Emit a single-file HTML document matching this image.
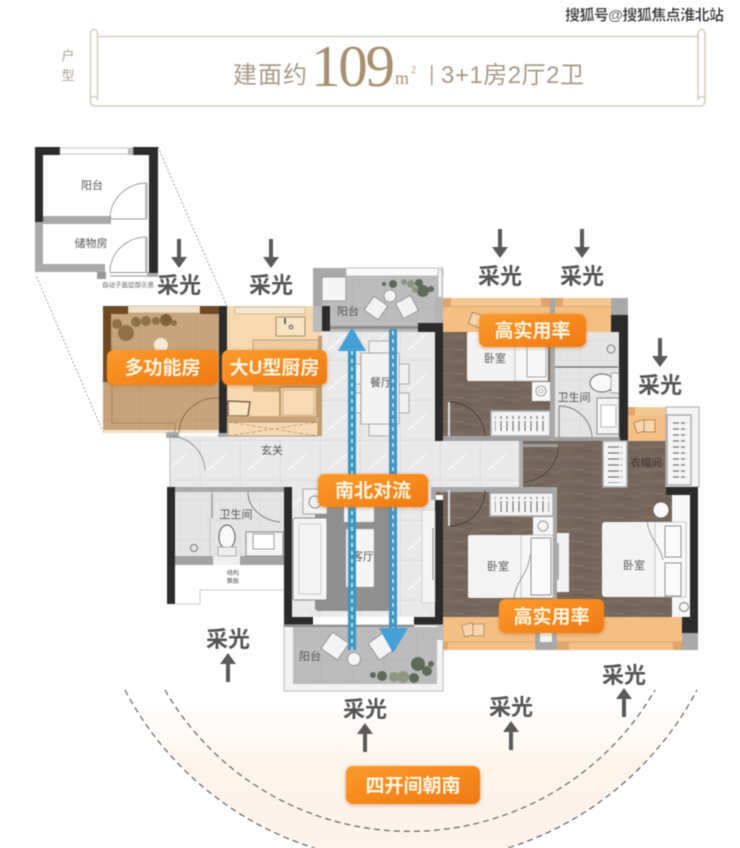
<!DOCTYPE html>
<html lang="zh"><head><meta charset="utf-8"><title>109㎡户型图</title>
<style>
html,body{margin:0;padding:0;background:#fff;width:740px;height:848px;overflow:hidden}
svg{display:block;filter:blur(.45px)}
text{font-family:"Liberation Sans","Noto Sans CJK SC",sans-serif}
.cg{font-size:22px;font-weight:700;fill:#555;text-anchor:middle}
.lb{fill:#555;text-anchor:middle}
.bd{font-size:19px;font-weight:700;fill:#fff5e6;text-anchor:middle}
.hd{fill:#a89a86;font-size:24px}
.door{fill:none;stroke:#777;stroke-width:.7}
.wr{fill:#f4f4f4;stroke:#aaa;stroke-width:1.5}
.badges{filter:drop-shadow(0 1px 2px rgba(190,110,40,.55))}
</style></head><body>
<svg width="740" height="848" viewBox="0 0 740 848" xmlns="http://www.w3.org/2000/svg">
<defs>
<linearGradient id="peach" x1="0" y1="0" x2="0" y2="1"><stop offset="0" stop-color="#fff"/><stop offset=".08" stop-color="#fff"/><stop offset=".45" stop-color="#fdf4ea"/><stop offset="1" stop-color="#fdf3ec"/></linearGradient>
<linearGradient id="bg" x1="0" y1="0" x2="1" y2="1"><stop offset="0" stop-color="#fb9a2c"/><stop offset=".5" stop-color="#f78a1c"/><stop offset="1" stop-color="#ee7a12"/></linearGradient>
<pattern id="wood" width="40" height="12" patternUnits="userSpaceOnUse"><rect width="40" height="12" fill="#76675a"/><rect y="0" width="24" height="3" fill="#7c6e61"/><rect x="14" y="6" width="20" height="3" fill="#6f6155"/><rect x="30" y="3" width="10" height="3" fill="#7b6d60"/></pattern>
<pattern id="tile" width="40" height="40" patternUnits="userSpaceOnUse"><rect width="40" height="40" fill="#e9e9e9"/><path d="M0 0H40M0 0V40" stroke="#c6c6c6" stroke-width=".7"/><path d="M8 30L26 14" stroke="#f5f5f5" stroke-width="2"/></pattern>
<pattern id="tile2" width="20" height="20" patternUnits="userSpaceOnUse"><rect width="20" height="20" fill="#e4e4e4"/><path d="M0 0H20M0 0V20" stroke="#cfcfcf" stroke-width=".6"/></pattern>
<pattern id="tan" width="28" height="28" patternUnits="userSpaceOnUse"><rect width="28" height="28" fill="#c6a57c"/><path d="M0 0H28M0 0V28" stroke="#b49269" stroke-width=".7"/></pattern>
<pattern id="bal" width="32" height="22" patternUnits="userSpaceOnUse"><rect width="32" height="22" fill="#bcbcbc"/><path d="M0 0H32M0 0V22" stroke="#a9a9a9" stroke-width=".6"/></pattern>
<pattern id="hang" width="6" height="20" patternUnits="userSpaceOnUse"><path d="M3 1V19" stroke="#777" stroke-width="1.2"/></pattern>
<pattern id="hangv" width="20" height="6" patternUnits="userSpaceOnUse"><path d="M1 3H19" stroke="#777" stroke-width="1.2"/></pattern>
</defs>
<rect width="740" height="848" fill="#fff"/>

<!-- watermark -->
<text x="565" y="20" style="font-size:15px;font-weight:700" fill="#333" stroke="#fff" stroke-width=".3" textLength="159">搜狐号@搜狐焦点淮北站</text>

<!-- scroll header -->
<g fill="none" stroke="#d6d0c4" stroke-width="1.6">
<path d="M97 36.500H698"/><path d="M94 106H702"/>
<path d="M90.500 100V34a3.500 4.500 0 0 1 7 0V100"/><path d="M90.500 100a4 5 0 0 0 4 6M97.500 100a3 3 0 0 0-7 0"/>
<path d="M705 100V34a3.500 4.500 0 0 0-7 0V100"/><path d="M705 100a4 5 0 0 1-4 6M698 100a3 3 0 0 1 7 0"/>
</g>
<text x="68" y="60" style="font-size:13px" fill="#aaa194" text-anchor="middle">户</text>
<text x="68" y="80" style="font-size:13px" fill="#aaa194" text-anchor="middle">型</text>
<text x="233" y="83" class="hd" textLength="74">建面约</text>
<text x="311" y="86" style="font-family:'Liberation Serif',serif;font-size:59px" fill="#a8906f" textLength="84">109</text>
<text x="395" y="84" style="font-family:'Liberation Serif',serif;font-size:18px" fill="#a8906f">m</text>
<text x="411" y="73" style="font-family:'Liberation Serif',serif;font-size:10px" fill="#a8906f">2</text>
<rect x="431" y="65" width="1.500" height="20" fill="#a89a86"/>
<text x="441" y="83" class="hd" textLength="143">3+1房2厅2卫</text>

<!-- south arcs -->
<path d="M125 690A323 323 0 0 0 697 690Z" fill="url(#peach)"/>
<path d="M125 690A323 323 0 0 0 697 690" fill="none" stroke="#555" stroke-width="1.100" stroke-dasharray="6 4"/>
<path d="M165 690A283 283 0 0 0 655 690" fill="none" stroke="#555" stroke-width="1.100" stroke-dasharray="6 4"/>

<!-- dotted projection lines -->
<path d="M158 147L227 306M35 273L103 432" stroke="#777" stroke-width=".7" stroke-dasharray="2 2" fill="none"/>

<!-- inset storage -->
<g>
<rect x="35" y="147" width="123" height="128" fill="#fff"/>
<rect x="35" y="222" width="8" height="50" fill="#a9a9a9"/>
<rect x="43" y="216" width="68" height="8" fill="#a9a9a9"/>
<rect x="35" y="264" width="70" height="8" fill="#a9a9a9"/>
<rect x="97" y="272" width="9" height="7" fill="#999"/>
<rect x="147" y="272" width="11" height="5" fill="#aaa"/>
<path d="M35 147H60V155H43V222H35ZM133 147H158V273H149V155H133Z" fill="#2b2b2b"/>
<rect x="60" y="148" width="73" height="6" fill="#fff" stroke="#aaa" stroke-width=".7"/>
<rect x="128" y="148" width="5" height="7" fill="#bbb"/>
<path class="door" d="M147 183A37 36 0 0 0 110 219H147M147 183V219M147 237A37 35 0 0 0 110 272M147 237V272M110 272.500H147M110 276H147"/>
<path d="M146 183V219M146 237V272" stroke="#bbb" stroke-width="2"/>
<text x="92" y="189" class="lb" style="font-size:11px">阳台</text>
<text x="91" y="247" class="lb" style="font-size:11px">储物房</text>
<text x="128" y="287" style="font-size:6.500px" fill="#666" text-anchor="middle">自动子面层部示意</text>
</g>

<!-- main floor -->
<rect x="170" y="436" width="350" height="51" fill="url(#tile)"/>
<rect x="322" y="330" width="122" height="160" fill="url(#tile)"/>
<path d="M170 436V487" stroke="#bbb"/>
<path d="M520 441V487" stroke="#bbb"/>

<!-- multi-function room -->
<rect x="103" y="306" width="116" height="126" fill="url(#tan)"/>
<rect x="103" y="430" width="116" height="3" fill="#f2e0c6"/>
<rect x="128" y="306" width="72" height="7" fill="#eedfc6" stroke="#c7ad88" stroke-width=".7"/>
<path d="M103 306H128V314H111V382H103ZM200 306H219V314H200Z" fill="#6d4a24"/>
<path d="M112 345V423H175M175 423V432" fill="none" stroke="#a88660" stroke-width="1"/>
<g fill="#8e7148">
<circle cx="126" cy="333" r="8"/><circle cx="136" cy="322" r="5"/><circle cx="117" cy="324" r="5"/><circle cx="146" cy="321" r="5"/><circle cx="156" cy="321" r="4"/><circle cx="166" cy="320" r="6" fill="#7d6238"/><circle cx="174" cy="323" r="3"/>
</g>
<circle cx="161" cy="345" r="7" fill="#f6e9d6"/>
<path d="M219 398A38 36 0 0 0 179 432" class="door" style="stroke:#6b5232"/>
<rect x="166" y="432" width="13" height="6" fill="#aaa"/>

<!-- black wall between -->
<rect x="219" y="306" width="8" height="128" fill="#2b2b2b"/>
<rect x="218" y="433" width="10" height="4" fill="#aaa"/>

<!-- kitchen -->
<rect x="227" y="306" width="95" height="130" fill="#f6d9b0"/>
<rect x="235" y="307" width="70" height="7" fill="#f6e6cf" stroke="#c7a87e" stroke-width=".7"/>
<rect x="276" y="317" width="29" height="19" fill="#f8e2c3" stroke="#8f7a5d" stroke-width=".8"/>
<circle cx="291" cy="327" r="1.800" fill="none" stroke="#555"/><path d="M285 318V324" stroke="#444" stroke-width="1.500"/>
<rect x="253" y="340" width="66" height="46" fill="#eccba0" stroke="#b08d63" stroke-width=".8"/>
<rect x="253" y="386" width="30" height="6" fill="#c9a87c"/>
<rect x="280" y="387" width="37" height="31" fill="#efd0a6" stroke="#ac8b60" stroke-width="1.500"/>
<rect x="283" y="390" width="31" height="25" fill="#f6dbb5" stroke="#c3a278" stroke-width=".6"/>
<path d="M228 401L250 402L248 416H228Z" fill="#f8e3c5" stroke="#6b5232" stroke-width="1.300"/>
<rect x="227" y="416" width="90" height="6" fill="#c9a67a"/>
<rect x="228" y="422" width="90" height="14" fill="#f4d9b3" stroke="#a78660" stroke-width=".8"/>
<path d="M228 422L318 436M228 436L318 422" stroke="#a78660" stroke-width=".6" stroke-dasharray="4 2"/>
<rect x="318" y="336" width="4" height="100" fill="#bf9d71"/>
<rect x="313" y="306" width="9" height="25" fill="#6d4a24"/>

<!-- top balcony -->
<rect x="313" y="268" width="130" height="64" fill="url(#bal)"/>
<path d="M313 268H346V277H322V306H313Z" fill="#a8a8a8"/>
<rect x="322" y="277" width="24" height="24" fill="#f5f5f5" stroke="#999"/>
<rect x="346" y="268" width="97" height="8" fill="#fbfbfb" stroke="#bbb" stroke-width="1"/>
<rect x="438" y="270" width="4" height="28" fill="#f5f5f5" stroke="#bbb"/>
<rect x="435" y="297" width="8" height="27" fill="#b5b5b5"/>
<rect x="322" y="306" width="8" height="25" fill="#2b2b2b"/>
<rect x="418" y="323" width="25" height="9" fill="#2b2b2b"/>
<rect x="330" y="326" width="88" height="3" fill="#8e8e8e"/>
<text x="348" y="315" class="lb" style="font-size:11px">阳台</text>
<g fill="#f3f3f3" stroke="#888" stroke-width=".8">
<rect x="-8.500" y="-8.500" width="17" height="17" transform="translate(376 308) rotate(35)"/>
<rect x="-8.500" y="-8.500" width="17" height="17" transform="translate(407 307) rotate(-28)"/>
<circle cx="390" cy="296" r="6"/>
</g>
<g fill="#5e6a58">
<circle cx="393" cy="284" r="4"/><circle cx="384" cy="284" r="2"/><circle cx="404" cy="282" r="3" fill="#8c9680"/><circle cx="411" cy="284" r="4" fill="#8c9680"/><circle cx="419" cy="283" r="4"/><circle cx="423" cy="291" r="6"/><circle cx="431" cy="289" r="3"/><circle cx="415" cy="290" r="3" fill="#8c9680"/>
</g>

<!-- dining -->
<g fill="#f1f1f1" stroke="#999" stroke-width=".8">
<rect x="369" y="341" width="22" height="12"/><rect x="369" y="424" width="22" height="12"/>
<rect x="350" y="364" width="11" height="20"/><rect x="350" y="393" width="11" height="20"/>
<rect x="398" y="364" width="11" height="20"/><rect x="398" y="393" width="11" height="20"/>
<rect x="361" y="353" width="38" height="71" fill="#f3f3f3"/>
</g>
<text x="381" y="386" class="lb" style="font-size:11px">餐厅</text>
<text x="272" y="454" class="lb" style="font-size:11px">玄关</text>
<path class="door" d="M170 436A36 36 0 0 1 205 470"/>

<!-- bedroom upper -->
<rect x="443" y="332" width="107" height="109" fill="url(#wood)"/>
<rect x="443" y="298" width="107" height="34" fill="#f4bf83"/>
<rect x="443" y="298" width="107" height="8" fill="#f2c892"/>
<rect x="443" y="298" width="8" height="8" fill="#dfa56a"/><rect x="541" y="298" width="9" height="8" fill="#dfa56a"/>
<path d="M443 306.500H550" stroke="#cf9c62" stroke-width=".7"/>
<rect x="470" y="314" width="12" height="12" fill="#f6d6ac" stroke="#9d7a50" stroke-width=".8" transform="rotate(20 476 320)"/>
<rect x="467" y="332" width="81" height="49" rx="2" fill="#f3f3f3"/>
<rect x="515" y="332" width="33" height="49" fill="#f7f7f7" stroke="#aaa" stroke-width=".7"/>
<rect x="527" y="345" width="19" height="32" fill="none" stroke="#888" stroke-width=".7"/>
<text x="495" y="362" class="lb" style="font-size:11px">卧室</text>
<rect x="532" y="382" width="18" height="19" fill="#f7f7f7"/>
<circle cx="541" cy="391" r="5" fill="none" stroke="#888" stroke-width=".8"/><circle cx="541" cy="391" r="2" fill="none" stroke="#888" stroke-width=".6"/>
<rect x="491" y="411" width="59" height="25" class="wr"/>
<rect x="495" y="416" width="52" height="15" fill="url(#hang)"/>
<path d="M449 402V438M449 402A36 36 0 0 1 485 438" class="door" style="stroke:#333"/>
<rect x="448" y="402" width="2" height="36" fill="#ddd"/>
<rect x="435" y="332" width="8" height="109" fill="#2b2b2b"/>
<rect x="443" y="436" width="112" height="5" fill="#a0a0a0"/>

<!-- bathroom upper -->
<rect x="555" y="332" width="65" height="106" fill="url(#tile2)"/>
<rect x="550" y="298" width="5" height="142" fill="#a8a8a8"/>
<rect x="555" y="298" width="56" height="34" fill="#f4bf83"/>
<rect x="555" y="298" width="56" height="8" fill="#f2c892"/>
<rect x="555" y="298" width="8" height="8" fill="#dfa56a"/>
<path d="M555 306.500H611" stroke="#cf9c62" stroke-width=".7"/>
<rect x="611" y="298" width="17" height="17" fill="#a9a9a9"/>
<rect x="611" y="315" width="8" height="17" fill="#2b2b2b"/>
<rect x="619" y="315" width="9" height="126" fill="#2b2b2b"/>
<path d="M555 367H618" stroke="#666" stroke-width="1.200"/>
<circle cx="611" cy="349" r="4" fill="none" stroke="#777"/>
<ellipse cx="602" cy="383" rx="12" ry="9" fill="#f8f8f8" stroke="#666"/>
<rect x="611" y="373" width="8" height="20" fill="#f2f2f2" stroke="#888" stroke-width=".7"/>
<rect x="597" y="398" width="22" height="36" fill="#f4f4f4" stroke="#888"/>
<rect x="601" y="405" width="15" height="22" fill="#fff" stroke="#888" stroke-width=".6"/>
<text x="574" y="401" class="lb" style="font-size:11px">卫生间</text>
<path class="door" d="M559 406A33 33 0 0 1 592 439M559 406V439" style="stroke:#555"/>
<rect x="555" y="437" width="65" height="4" fill="#a0a0a0"/>

<!-- closet + lower bedrooms -->
<path d="M519 441H666V487H682V617H443V495H435V487H519Z" fill="url(#wood)"/>
<rect x="628" y="407" width="38" height="34" fill="#f4bf83"/>
<rect x="628" y="407" width="38" height="8" fill="#f2c892"/>
<rect x="628" y="407" width="7" height="8" fill="#dfa56a"/>
<rect x="635" y="421" width="11" height="11" fill="#f6d6ac" stroke="#9d7a50" stroke-width=".8" transform="rotate(-18 640 426)"/>
<rect x="644" y="420" width="11" height="12" fill="#f6d6ac" stroke="#9d7a50" stroke-width=".8"/>
<rect x="666" y="407" width="33" height="80" fill="#f4f4f4" stroke="#b5b5b5" stroke-width="1.200"/>
<rect x="667" y="415" width="24" height="70" class="wr"/>
<rect x="673" y="418" width="12" height="64" fill="url(#hangv)"/>
<rect x="603" y="441" width="24" height="46" class="wr"/>
<rect x="608" y="445" width="14" height="38" fill="url(#hangv)"/>
<text x="646" y="466" text-anchor="middle" style="font-size:10.500px;fill:#3a322c">衣帽间</text>
<rect x="522" y="444" width="36" height="3" fill="#9d9d9d"/>
<path d="M558 447A37 35 0 0 1 520 482" class="door" style="stroke:#3a3a3a"/>
<rect x="519" y="441" width="4" height="46" fill="#b0b0b0"/>
<rect x="435" y="487" width="122" height="5" fill="#a8a8a8"/>
<rect x="553" y="487" width="4" height="112" fill="#a8a8a8"/>
<rect x="490" y="493" width="63" height="23" class="wr"/>
<rect x="495" y="497" width="54" height="15" fill="url(#hang)"/>
<rect x="533" y="517" width="20" height="18" fill="#f5f5f5"/>
<circle cx="543" cy="526" r="5" fill="none" stroke="#999"/>
<path d="M449 490V526M449 526A36 36 0 0 0 485 490" class="door" style="stroke:#333"/>
<rect x="448" y="490" width="2" height="36" fill="#ddd"/>
<rect x="468" y="535" width="85" height="63" rx="2" fill="#f4f4f4"/>
<rect x="521" y="535" width="32" height="63" fill="#f7f7f7" stroke="#aaa" stroke-width=".6"/>
<rect x="531" y="538" width="20" height="57" fill="#fafafa" stroke="#666" stroke-width=".7"/>
<path d="M530 555C528 575 516 580 514 598" fill="none" stroke="#777" stroke-width=".7"/>
<text x="498" y="570" class="lb" style="font-size:11px">卧室</text>
<rect x="557" y="533" width="12" height="59" fill="#f3f3f3"/>
<path d="M558 543V580" stroke="#888" stroke-width="1.200"/>
<rect x="672" y="495" width="18" height="122" fill="#f7f7f7"/>
<circle cx="661" cy="510" r="8" fill="#f8f8f8" stroke="#555" stroke-width=".8"/>
<rect x="602" y="522" width="84" height="75" rx="3" fill="#f4f4f4"/>
<rect x="655" y="522" width="31" height="75" fill="#f8f8f8" stroke="#aaa" stroke-width=".6"/>
<rect x="665" y="526" width="16" height="31" fill="#fbfbfb" stroke="#666" stroke-width=".7"/>
<rect x="665" y="563" width="16" height="33" fill="#fbfbfb" stroke="#666" stroke-width=".7"/>
<path d="M647 522C650 540 660 545 663 560" fill="none" stroke="#777" stroke-width=".7"/>
<text x="634" y="569" class="lb" style="font-size:11px">卧室</text>
<rect x="676" y="598" width="14" height="18" fill="#f6f6f6"/><circle cx="684" cy="607" r="4.500" fill="none" stroke="#777"/>
<path d="M666 487H698V633H682V617H690V495H666Z" fill="#2b2b2b"/>
<rect x="435" y="500" width="8" height="125" fill="#2b2b2b"/>
<rect x="414" y="617" width="29" height="8" fill="#2b2b2b"/>

<!-- bottom orange -->
<rect x="443" y="617" width="92" height="33" fill="#f4bf83"/>
<rect x="557" y="617" width="125" height="33" fill="#f4bf83"/>
<path d="M443 642H535M557 642H682" stroke="#cf9c62" stroke-width=".8"/>
<rect x="443" y="642" width="5" height="8" fill="#dfa56a"/><rect x="557" y="642" width="12" height="8" fill="#dfa56a"/><rect x="673" y="642" width="9" height="8" fill="#dfa56a"/>
<rect x="535" y="617" width="22" height="33" fill="#a8a8a8"/><rect x="540" y="630" width="12" height="12" fill="#f5f5f5"/>
<rect x="682" y="633" width="16" height="17" fill="#a9a9a9"/>
<rect x="463" y="624" width="11" height="12" fill="#f6d6ac" stroke="#9d7a50" stroke-width=".7" transform="rotate(-15 468 630)"/>
<rect x="473" y="624" width="11" height="12" fill="#f6d6ac" stroke="#9d7a50" stroke-width=".7"/>

<!-- lower-left bathroom -->
<rect x="170" y="487" width="114" height="5" fill="#a8a8a8"/>
<rect x="175" y="492" width="109" height="65" fill="url(#tile2)"/>
<rect x="175" y="556" width="109" height="9" fill="#a3a3a3"/>
<rect x="213" y="556" width="27" height="9" fill="#efefef"/>
<path d="M212 493V518" stroke="#999" stroke-width="1.500"/><path d="M210 518V556" stroke="#bbb" stroke-width=".7"/>
<path d="M248 492A36 30 0 0 0 280 522" class="door" style="stroke:#555"/>
<ellipse cx="227" cy="537" rx="8" ry="12" fill="#f8f8f8" stroke="#555"/>
<rect x="218" y="547" width="18" height="9" fill="#eee" stroke="#888" stroke-width=".6"/>
<rect x="246" y="532" width="37" height="24" fill="#f5f5f5" stroke="#888"/>
<rect x="253" y="534" width="21" height="15" fill="#fff" stroke="#777" stroke-width=".7"/>
<circle cx="194" cy="548" r="3.500" fill="none" stroke="#777"/>
<text x="236" y="518" class="lb" style="font-size:11px">卫生间</text>
<text x="233" y="575" class="lb" style="font-size:6px">结构</text>
<text x="233" y="583" class="lb" style="font-size:6px">飘板</text>
<path d="M175 604H200V590H284" fill="none" stroke="#ccc" stroke-width="1"/>
<rect x="167" y="487" width="8" height="117" fill="#2b2b2b"/>
<rect x="284" y="487" width="8" height="138" fill="#2b2b2b"/>
<rect x="284" y="617" width="29" height="8" fill="#2b2b2b"/>

<!-- living room -->
<rect x="292" y="487" width="143" height="130" fill="url(#tile)"/>
<rect x="431" y="487" width="5" height="13" fill="#a8a8a8"/>
<rect x="315" y="500" width="75" height="111" rx="3" fill="#8f8f8f"/>
<rect x="303" y="489" width="24" height="25" fill="#f2f2f2" stroke="#999" stroke-width=".8"/>
<circle cx="315" cy="502" r="6" fill="none" stroke="#888"/>
<rect x="293" y="518" width="34" height="82" rx="2" fill="#f4f4f4" stroke="#888"/>
<rect x="299" y="524" width="22" height="70" fill="none" stroke="#bbb" stroke-width=".7"/>
<rect x="344" y="505" width="30" height="17" fill="#f2f2f2"/>
<rect x="346" y="529" width="28" height="58" fill="#f5f5f5" stroke="#aaa" stroke-width=".5"/>
<text x="363" y="560" class="lb" style="font-size:11px">客厅</text>
<rect x="422" y="510" width="13" height="93" fill="#f5f5f5" stroke="#bbb" stroke-width=".6"/>
<path d="M433 528V580" stroke="#888" stroke-width="1"/>

<!-- lower balcony -->
<rect x="284" y="625" width="159" height="66" fill="#f3f3f3" stroke="#bbb" stroke-width="1"/>
<rect x="293" y="627" width="144" height="57" fill="url(#bal)"/>
<rect x="437" y="625" width="6" height="15" fill="#bdbdbd"/>
<rect x="284" y="625" width="130" height="2" fill="#8d8d8d"/>
<text x="310" y="660" class="lb" style="font-size:11px">阳台</text>
<g fill="#f4f4f4" stroke="#888" stroke-width=".8">
<rect x="-10" y="-10" width="20" height="20" transform="translate(335 646) rotate(35)"/>
<rect x="-10" y="-10" width="20" height="20" transform="translate(382 646) rotate(-35)"/>
<circle cx="354" cy="659" r="6.500"/>
</g>
<g fill="#5e6a58">
<circle cx="418" cy="664" r="7"/><circle cx="427" cy="671" r="5"/><circle cx="431" cy="664" r="3"/><circle cx="382" cy="676" r="5"/><circle cx="373" cy="675" r="3"/><circle cx="403" cy="677" r="6" fill="#8c9680"/><circle cx="394" cy="677" r="5" fill="#8c9680"/><circle cx="414" cy="678" r="5"/>
</g>

<!-- blue flow arrows -->
<g>
<rect x="348" y="350" width="8" height="300" fill="#3f94c5"/>
<path d="M352 351V650" stroke="#dff1fb" stroke-width="1.500" stroke-dasharray="4 4"/>
<path d="M352 327L366 351H338Z" fill="#45a0d8"/>
<rect x="389" y="329" width="8" height="300" rx="2" fill="#3f94c5"/>
<path d="M393 331V628" stroke="#dff1fb" stroke-width="1.500" stroke-dasharray="4 4"/>
<path d="M379 628H408L393 653Z" fill="#45a0d8"/>
</g>

<!-- badges -->
<g fill="url(#bg)" class="badges">
<rect x="107" y="350" width="111" height="35" rx="7"/>
<rect x="222" y="350" width="105" height="35" rx="7"/>
<rect x="479" y="314" width="107" height="33" rx="7"/>
<rect x="318" y="474" width="110" height="33" rx="7"/>
<rect x="499" y="599" width="105" height="34" rx="7"/>
<rect x="346" y="766" width="134" height="38" rx="7"/>
</g>
<text x="162.500" y="374" class="bd">多功能房</text>
<text x="274.500" y="374" class="bd">大U型厨房</text>
<text x="532.500" y="337" class="bd">高实用率</text>
<text x="373" y="497" class="bd">南北对流</text>
<text x="551.500" y="623" class="bd">高实用率</text>
<text x="413" y="792" class="bd">四开间朝南</text>

<!-- light labels -->
<g fill="#5a5a5a">
<path d="M177 239h4v18h6l-8 11-8-11h6z"/>
<path d="M269 239h4v18h6l-8 11-8-11h6z"/>
<path d="M498 229h4v18h6l-8 11-8-11h6z"/>
<path d="M580 229h4v18h6l-8 11-8-11h6z"/>
<path d="M658 338h4v18h6l-8 11-8-11h6z"/>
<path d="M226 682h4v-18h6l-8-11-8 11h6z"/>
<path d="M363 752h4v-18h6l-8-11-8 11h6z"/>
<path d="M509 750h4v-18h6l-8-11-8 11h6z"/>
<path d="M622 717h4v-18h6l-8-11-8 11h6z"/>
</g>
<text x="179" y="293" class="cg">采光</text>
<text x="271" y="293" class="cg">采光</text>
<text x="500" y="284" class="cg">采光</text>
<text x="582" y="284" class="cg">采光</text>
<text x="660" y="393" class="cg">采光</text>
<text x="228" y="647" class="cg">采光</text>
<text x="365" y="717" class="cg">采光</text>
<text x="511" y="715" class="cg">采光</text>
<text x="624" y="683" class="cg">采光</text>
</svg>
</body></html>
